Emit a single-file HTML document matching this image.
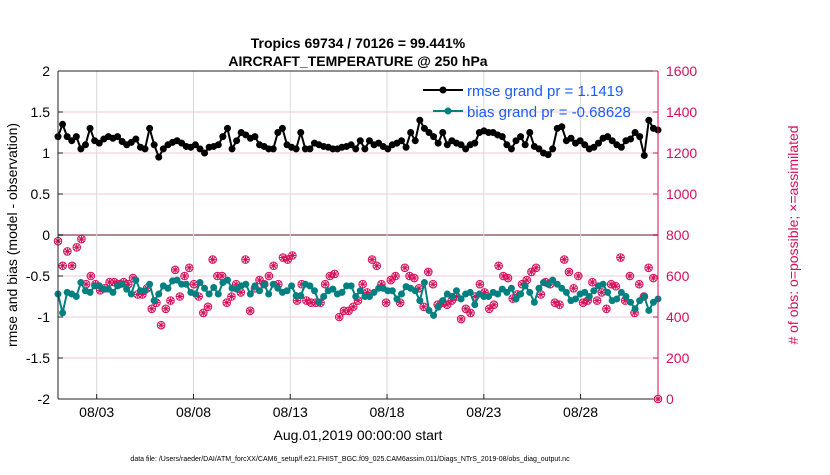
<!DOCTYPE html>
<html><head><meta charset="utf-8"><style>
body{margin:0;background:#fff;font-family:"Liberation Sans",Arial,sans-serif}
svg text{font-family:"Liberation Sans",Arial,sans-serif}
</style></head><body>
<svg id="chart" width="830" height="470" xmlns="http://www.w3.org/2000/svg">
<rect width="830" height="470" fill="#fff"/>
<text x="358" y="48" font-size="14" font-weight="bold" text-anchor="middle">Tropics 69734 / 70126 = 99.441%</text>
<text x="358" y="66" font-size="14" font-weight="bold" text-anchor="middle">AIRCRAFT_TEMPERATURE @ 250 hPa</text>
<g id="grid"></g>
<g id="series"></g>
<g id="axes"></g>
<text transform="translate(17,235) rotate(-90)" font-size="14" text-anchor="middle">rmse and bias (model - observation)</text>
<text transform="translate(798,235) rotate(-90)" font-size="14" fill="#d6105a" text-anchor="middle"># of obs: o=possible; ×=assimilated</text>
<text x="358" y="440" font-size="14" text-anchor="middle">Aug.01,2019 00:00:00 start</text>
<text x="350" y="461" font-size="7" text-anchor="middle">data file: /Users/raeder/DAI/ATM_forcXX/CAM6_setup/f.e21.FHIST_BGC.f09_025.CAM6assim.011/Diags_NTrS_2019-08/obs_diag_output.nc</text>
<g id="legend">
<line x1="423" y1="90" x2="463" y2="90" stroke="#000" stroke-width="2"/><circle cx="443" cy="90" r="3.5" fill="#000"/>
<text x="467" y="96" font-size="15" fill="#1a5cff">rmse grand pr = 1.1419</text>
<line x1="433" y1="111" x2="463" y2="111" stroke="#008080" stroke-width="2"/><circle cx="448" cy="111" r="3.5" fill="#008080"/>
<text x="467" y="117" font-size="15" fill="#1a5cff">bias grand pr = -0.68628</text>
</g>
</svg>
<script>
const rmse=[1.2,1.35,1.2,1.15,1.2,1.05,1.1,1.3,1.15,1.12,1.17,1.2,1.18,1.2,1.14,1.1,1.13,1.17,1.07,1.05,1.3,1.1,0.95,1.05,1.1,1.13,1.15,1.12,1.08,1.07,1.1,1.05,1.0,1.07,1.08,1.1,1.2,1.3,1.05,1.15,1.25,1.22,1.18,1.2,1.1,1.08,1.05,1.05,1.25,1.3,1.1,1.07,1.05,1.25,1.05,1.05,1.12,1.1,1.08,1.07,1.05,1.05,1.07,1.08,1.1,1.05,1.15,1.05,1.15,1.1,1.12,1.08,1.05,1.1,1.12,1.15,1.07,1.25,1.15,1.4,1.3,1.25,1.2,1.12,1.25,1.1,1.15,1.12,1.1,1.05,1.1,1.12,1.25,1.27,1.25,1.25,1.22,1.2,1.1,1.05,1.15,1.2,1.1,1.25,1.08,1.05,1.0,0.98,1.05,1.3,1.32,1.15,1.18,1.12,1.15,1.1,1.05,1.07,1.12,1.18,1.2,1.15,1.1,1.07,1.15,1.17,1.25,1.2,0.97,1.4,1.3,1.28];
const bias=[-0.72,-0.95,-0.7,-0.72,-0.75,-0.58,-0.68,-0.7,-0.62,-0.62,-0.66,-0.66,-0.7,-0.62,-0.6,-0.66,-0.72,-0.55,-0.68,-0.68,-0.6,-0.8,-0.72,-0.62,-0.65,-0.56,-0.55,-0.6,-0.6,-0.7,-0.72,-0.58,-0.65,-0.72,-0.64,-0.72,-0.58,-0.55,-0.65,-0.66,-0.62,-0.6,-0.72,-0.62,-0.68,-0.6,-0.72,-0.6,-0.65,-0.7,-0.68,-0.62,-0.74,-0.74,-0.6,-0.62,-0.68,-0.82,-0.75,-0.68,-0.66,-0.72,-0.7,-0.62,-0.62,-0.75,-0.68,-0.75,-0.75,-0.7,-0.65,-0.65,-0.68,-0.68,-0.78,-0.72,-0.63,-0.65,-0.68,-0.8,-0.58,-0.92,-0.98,-0.88,-0.8,-0.72,-0.75,-0.68,-0.78,-0.72,-0.7,-0.85,-0.72,-0.75,-0.75,-0.7,-0.72,-0.66,-0.7,-0.65,-0.78,-0.72,-0.62,-0.7,-0.82,-0.65,-0.58,-0.6,-0.55,-0.6,-0.65,-0.7,-0.8,-0.78,-0.72,-0.7,-0.75,-0.68,-0.62,-0.6,-0.7,-0.8,-0.78,-0.7,-0.75,-0.82,-0.9,-0.8,-0.75,-0.92,-0.82,-0.78];
const nobs=[770,650,720,650,740,780,560,600,560,530,540,570,570,560,570,560,590,510,510,540,440,470,360,440,480,630,500,600,640,560,500,420,450,680,600,600,470,500,560,520,680,430,540,580,560,600,650,560,690,680,700,480,560,480,470,470,470,560,600,610,400,430,430,450,480,560,520,680,650,560,470,580,600,470,640,600,590,540,450,620,560,460,470,460,480,500,390,440,420,500,560,520,440,460,650,600,590,490,510,560,580,620,640,510,570,560,470,460,680,620,540,600,470,480,570,480,520,440,560,550,690,480,600,420,560,500,640,590,0];
const xTicks=[2,7,12,17,22,27];
const xTickLabels=["08/03","08/08","08/13","08/18","08/23","08/28"];
const yTicks=[-2,-1.5,-1,-0.5,0,0.5,1,1.5,2];
const y2Ticks=[0,200,400,600,800,1000,1200,1400,1600];
const L=58,R=658,T=71,B=399,NS="http://www.w3.org/2000/svg";
const xs=(i,n)=>L+i/(n-1)*(R-L);
const xd=d=>L+d*(R-L)/31;
const y1=v=>T+(2-v)/4*(B-T);
const y2=v=>B-v/1600*(B-T);
function mk(tag,at,p){const e=document.createElementNS(NS,tag);for(const k in at)e.setAttribute(k,at[k]);p.appendChild(e);return e;}
const grid=document.getElementById('grid'),ser=document.getElementById('series'),ax=document.getElementById('axes');
yTicks.forEach(v=>{const l=mk('line',{x1:L,x2:R,y1:y1(v),y2:y1(v),stroke:v===0?'#b08890':'#f2c8d6','stroke-width':v===0?2:1},grid);

});
xTicks.forEach((d,i)=>{const l=mk('line',{x1:xd(d),x2:xd(d),y1:T,y2:B,stroke:'#d8d8d8'},grid);


const t=mk('text',{x:xd(d),y:B+18,'font-size':14,'text-anchor':'middle'},ax);t.textContent=xTickLabels[i];


mk('line',{x1:xd(d),x2:xd(d),y1:B,y2:B-5,stroke:'#222'},ax);});
nobs.forEach((v,i)=>{const g=mk('g',{},ser);


const x=xs(i,nobs.length),y=y2(v);
mk('circle',{cx:x,cy:y,r:3.8,fill:'none',stroke:'#d6105a','stroke-width':1},g);
mk('path',{d:`M${x-3.5} ${y}H${x+3.5}M${x} ${y-3.5}V${y+3.5}M${x-2.5} ${y-2.5}L${x+2.5} ${y+2.5}M${x-2.5} ${y+2.5}L${x+2.5} ${y-2.5}`,stroke:'#d6105a','stroke-width':1},g);});
function series(arr,col,name){const n=arr.length;const p=mk('polyline',{points:arr.map((v,i)=>xs(i,n)+','+y1(v)).join(' '),fill:'none',stroke:col,'stroke-width':2},ser);


arr.forEach((v,i)=>{const c=mk('circle',{cx:xs(i,n),cy:y1(v),r:3.5,fill:col},ser);

});}
series(bias,'#008080','bias');
series(rmse,'#000','rmse');
mk('line',{x1:L,x2:R,y1:B,y2:B,stroke:'#222'},ax);
mk('line',{x1:L,x2:L,y1:T,y2:B,stroke:'#222'},ax);
mk('line',{x1:L,x2:R,y1:T,y2:T,stroke:'#222'},ax);
mk('line',{x1:R,x2:R,y1:T,y2:B,stroke:'#d6105a'},ax);
yTicks.forEach(v=>{mk('line',{x1:L,x2:L+5,y1:y1(v),y2:y1(v),stroke:'#222'},ax);
const t=mk('text',{x:L-8,y:y1(v)+5,'font-size':14,'text-anchor':'end'},ax);t.textContent=String(v);

});
y2Ticks.forEach(v=>{mk('line',{x1:R,x2:R-5,y1:y2(v),y2:y2(v),stroke:'#d6105a'},ax);
const t=mk('text',{x:R+8,y:y2(v)+5,'font-size':14,fill:'#d6105a'},ax);t.textContent=String(v);

});
</script>
</body></html>
